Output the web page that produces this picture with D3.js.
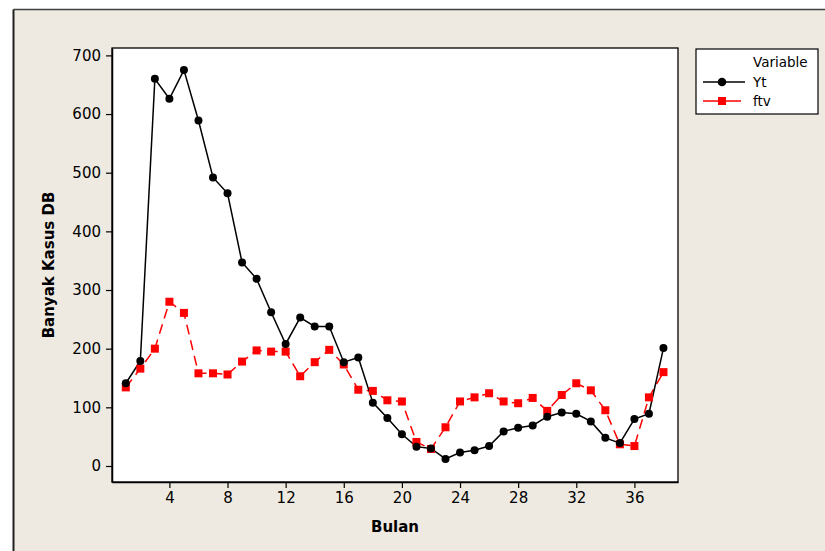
<!DOCTYPE html>
<html><head><meta charset="utf-8">
<script src="https://cdn.jsdelivr.net/npm/d3@7"></script>
<style>
html,body{margin:0;padding:0;background:#fff;}
svg{display:block;}
</style></head>
<body>
<script>
const bulan = d3.range(1, 39);
const yt = [141,179,660,626,675,589,492,465,347,319,262,208,253,238,238,177,185,108,82,54,33,30,12,23,27,34,59,65,69,84,91,89,76,48,39,80,89,201];
const ftv = [134,166,200,280,261,158,158,156,178,197,195,195,153,177,198,173,130,128,112,110,41,29,66,110,117,124,110,107,116,94,121,141,129,95,37,34,117,160];
const xTicks = [4,8,12,16,20,24,28,32,36];
const yTicks = [0,100,200,300,400,500,600,700];
const seriesNames = ["Yt","ftv"];
const legendTitle = "Variable";
const xTitle = "Bulan";
const yTitle = "Banyak Kasus DB";

const W = 825, H = 551;
const svg = d3.select("body").append("svg").attr("width", W).attr("height", H);
const font = "'DejaVu Sans', Verdana, sans-serif";

// outer frame
svg.append("rect").attr("x",0).attr("y",0).attr("width",W).attr("height",H).attr("fill","#fff");
svg.append("rect").attr("x",13).attr("y",9).attr("width",W-13).attr("height",H-9).attr("fill","#EEEAE1");
svg.append("line").attr("x1",13.5).attr("x2",W).attr("y1",9.5).attr("y2",9.5).attr("stroke","#404040").attr("stroke-width",1.5);
svg.append("line").attr("x1",13.5).attr("x2",13.5).attr("y1",9.5).attr("y2",H).attr("stroke","#202020").attr("stroke-width",2);

const L = 112, T = 48, R = 678, B = 482;
const x = d3.scaleLinear().domain([0.05, 39.0]).range([L, R]);
const y = d3.scaleLinear().domain([-27.3, 712.6]).range([B, T]);

svg.append("rect").attr("x",L).attr("y",T).attr("width",R-L).attr("height",B-T)
  .attr("fill","#fff").attr("stroke","#000").attr("stroke-width",1.3);

const xAxis = svg.append("g").attr("transform",`translate(0,${B})`)
  .call(d3.axisBottom(x).tickValues(xTicks).tickFormat(d3.format("d")).tickSizeInner(6).tickSizeOuter(0).tickPadding(4));
const yAxis = svg.append("g").attr("transform",`translate(${L},0)`)
  .call(d3.axisLeft(y).tickValues(yTicks).tickFormat(d3.format("d")).tickSizeInner(6).tickSizeOuter(0).tickPadding(5));
[xAxis, yAxis].forEach(g => {
  g.select(".domain").attr("stroke","#000").attr("stroke-width",1.5);
  g.selectAll(".tick line").attr("stroke","#000").attr("stroke-width",1.2);
  g.selectAll(".tick text").attr("fill","#000").style("font-family",font).style("font-size","15px");
});

svg.append("text").attr("x",(L+R)/2).attr("y",532).attr("text-anchor","middle")
  .style("font-family",font).style("font-size","15px").style("font-weight","bold").text(xTitle);
svg.append("text").attr("transform",`translate(54,${(T+B)/2}) rotate(-90)`).attr("text-anchor","middle")
  .style("font-family",font).style("font-size","15px").style("font-weight","bold").text(yTitle);

const line = d3.line().x(d => x(d[0])).y(d => y(d[1]));
const ytData = bulan.map((b,i)=>[b, yt[i]]);
const ftvData = bulan.map((b,i)=>[b, ftv[i]]);

svg.append("path").datum(ftvData).attr("d",line).attr("fill","none")
  .attr("stroke","#FF0000").attr("stroke-width",1.5).attr("stroke-dasharray","10,6");
svg.append("path").datum(ytData).attr("d",line).attr("fill","none")
  .attr("stroke","#000").attr("stroke-width",1.5);

svg.selectAll(".sq").data(ftvData).enter().append("rect")
  .attr("x",d=>x(d[0])-4).attr("y",d=>y(d[1])-4).attr("width",8).attr("height",8).attr("fill","#FF0000");
svg.selectAll(".ci").data(ytData).enter().append("circle")
  .attr("cx",d=>x(d[0])).attr("cy",d=>y(d[1])).attr("r",4).attr("fill","#000");

// legend
const lg = svg.append("g");
lg.append("rect").attr("x",696).attr("y",49).attr("width",122).attr("height",65)
  .attr("fill","#fff").attr("stroke","#000").attr("stroke-width",1.2);
lg.append("text").attr("x",753).attr("y",67).style("font-family",font).style("font-size","13.5px").text(legendTitle);
lg.append("line").attr("x1",703).attr("x2",745).attr("y1",82).attr("y2",82).attr("stroke","#000").attr("stroke-width",1.5);
lg.append("circle").attr("cx",722).attr("cy",82).attr("r",4.3).attr("fill","#000");
lg.append("text").attr("x",753).attr("y",87).style("font-family",font).style("font-size","13.5px").text(seriesNames[0]);
lg.append("line").attr("x1",703).attr("x2",741).attr("y1",101).attr("y2",101).attr("stroke","#FF0000").attr("stroke-width",1.5);
lg.append("rect").attr("x",718).attr("y",97).attr("width",8).attr("height",8).attr("fill","#FF0000");
lg.append("text").attr("x",753).attr("y",106).style("font-family",font).style("font-size","13.5px").text(seriesNames[1]);
</script>
</body></html>
